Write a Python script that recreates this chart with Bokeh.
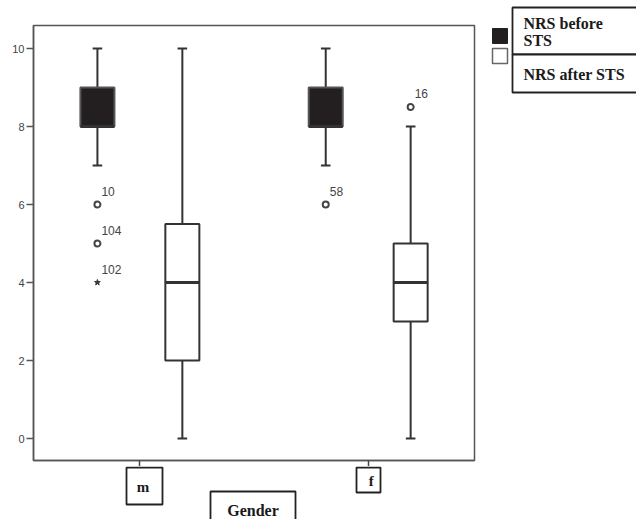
from bokeh.plotting import figure
from bokeh.models import Range1d, FixedTicker, ColumnDataSource
from bokeh.layouts import row, column
from bokeh.core.properties import value
from bokeh.embed import file_html
from bokeh.resources import INLINE

# ---- data ----
groups = ["m", "f"]
group_pos = [1, 2]
series = ["NRS before STS", "NRS after STS"]
x_title = "Gender"

before_q1 = [8, 8]
before_median = [8, 8]
before_q3 = [9, 9]
before_lo = [7, 7]
before_hi = [10, 10]

after_q1 = [2, 3]
after_median = [4, 4]
after_q3 = [5.5, 5]
after_lo = [0, 0]
after_hi = [10, 8]

# outliers: group index, series index, value, case id
out_group = [0, 0, 1, 1]
out_series = [0, 0, 0, 1]
out_value = [6, 5, 6, 8.5]
out_label = ["10", "104", "58", "16"]

# extreme values
ext_group = [0]
ext_series = [0]
ext_value = [4]
ext_label = ["102"]

y_ticks = [0, 2, 4, 6, 8, 10]

# ---- geometry ----
X0, XS = 0.534, 228.3          # x range start, px per unit
def dx(px):                     # pixel column -> x data (for layout boxes)
    return X0 + (px - 33.0) / XS

OFF = 0.186
BW = 0.149
CAP = 0.042
LINE = "#333333"
SERIF = value("Liberation Serif")
TXT = "#1a1a1a"

main = figure(width=478, height=466, output_backend="svg", toolbar_location=None,
              x_range=Range1d(dx(33), dx(474)), y_range=Range1d(-0.564, 10.59),
              min_border=0, min_border_left=33, min_border_right=4,
              min_border_top=25, min_border_bottom=6)
main.background_fill_color = "white"
main.border_fill_color = "white"
main.outline_line_color = "#555555"
main.outline_line_width = 1.5
main.xgrid.visible = False
main.ygrid.visible = False

ya = main.yaxis[0]
ya.ticker = FixedTicker(ticks=y_ticks)
ya.axis_line_color = "#555555"
ya.axis_line_width = 1.5
ya.major_tick_line_color = "#555555"
ya.major_tick_line_width = 1.5
ya.major_tick_out = 7
ya.major_tick_in = 0
ya.minor_tick_line_color = None
ya.major_label_standoff = 2
ya.major_label_text_font = "Liberation Sans"
ya.major_label_text_font_size = "11px"
ya.major_label_text_color = "#444444"

xa = main.xaxis[0]
xa.ticker = FixedTicker(ticks=group_pos)
xa.major_label_overrides = {1: "", 2: ""}
xa.major_label_text_font_size = "0px"
xa.major_label_standoff = 0
xa.axis_line_color = "#555555"
xa.axis_line_width = 1.5
xa.major_tick_line_color = "#444444"
xa.major_tick_line_width = 1.5
xa.major_tick_out = 6
xa.major_tick_in = 0
xa.minor_tick_line_color = None

def draw_series(xs, q1, med, q3, lo, hi, fill, outline):
    src = ColumnDataSource(dict(x=xs, q1=q1, med=med, q3=q3, lo=lo, hi=hi,
                                cl=[x - CAP / 2 for x in xs], cr=[x + CAP / 2 for x in xs],
                                bl=[x - BW / 2 for x in xs], br=[x + BW / 2 for x in xs]))
    main.segment(x0="x", y0="lo", x1="x", y1="q1", source=src, line_color=LINE, line_width=2)
    main.segment(x0="x", y0="q3", x1="x", y1="hi", source=src, line_color=LINE, line_width=2)
    main.segment(x0="cl", y0="lo", x1="cr", y1="lo", source=src, line_color=LINE, line_width=2)
    main.segment(x0="cl", y0="hi", x1="cr", y1="hi", source=src, line_color=LINE, line_width=2)
    main.vbar(x="x", width=BW, bottom="q1", top="q3", source=src,
              fill_color=fill, line_color=outline, line_width=2)
    main.segment(x0="bl", y0="med", x1="br", y1="med", source=src, line_color=LINE, line_width=3)

draw_series([g - OFF for g in group_pos], before_q1, before_median, before_q3,
            before_lo, before_hi, "#231f20", "#555555")
draw_series([g + OFF for g in group_pos], after_q1, after_median, after_q3,
            after_lo, after_hi, "white", LINE)

def sx(gi, si):
    return group_pos[gi] + (-OFF if si == 0 else OFF)

osrc = ColumnDataSource(dict(x=[sx(g, s) for g, s in zip(out_group, out_series)],
                             y=out_value, t=out_label))
main.scatter(x="x", y="y", source=osrc, marker="circle", size=6, fill_color=None,
             line_color="#444444", line_width=2)
main.text(x="x", y="y", text="t", source=osrc, x_offset=4, y_offset=-9,
          text_baseline="bottom", text_align="left", text_font_size="12px",
          text_font=value("Liberation Sans"), text_color="#444444")

esrc = ColumnDataSource(dict(x=[sx(g, s) for g, s in zip(ext_group, ext_series)],
                             y=ext_value, t=ext_label))
main.scatter(x="x", y="y", source=esrc, marker="star", size=6, fill_color="#333333",
             line_color="#333333", line_width=1)
main.text(x="x", y="y", text="t", source=esrc, x_offset=4, y_offset=-9,
          text_baseline="bottom", text_align="left", text_font_size="12px",
          text_font=value("Liberation Sans"), text_color="#444444")

def bare(width, height, xr, yr):
    f = figure(width=width, height=height, output_backend="svg", toolbar_location=None,
               x_range=xr, y_range=yr, x_axis_location=None, y_axis_location=None,
               min_border=0)
    f.outline_line_color = None
    f.background_fill_color = "white"
    f.border_fill_color = "white"
    f.xgrid.visible = False
    f.ygrid.visible = False
    return f

# ---- category labels and axis title (below the plot), y in pixel rows ----
bottom = bare(478, 53, main.x_range, Range1d(519, 466))
bottom.min_border_left = 33
bottom.min_border_right = 4
cat_src = ColumnDataSource(dict(
    l=[dx(126), dx(356)], r=[dx(162), dx(380)], t=[467, 467], b=[504, 492],
    x=group_pos, y=[486, 480], txt=groups))
bottom.quad(left="l", right="r", top="t", bottom="b", source=cat_src,
            fill_color="white", line_color="#222222", line_width=1.8)
bottom.text(x="x", y="y", text="txt", source=cat_src, text_align="center",
            text_baseline="middle", text_font=SERIF, text_font_style="bold",
            text_font_size="15px", text_color=TXT, x_offset=3)
bottom.quad(left=[dx(210)], right=[dx(295)], top=[491], bottom=[545],
            fill_color="white", line_color="#222222", line_width=1.8)
bottom.text(x=[dx(252.5)], y=[510], text=[x_title], text_align="center",
            text_baseline="middle", text_font=SERIF, text_font_style="bold",
            text_font_size="16px", text_color=TXT)

# ---- legend (right of the plot), coordinates in pixels ----
leg = bare(158, 519, Range1d(478, 636), Range1d(519, 0))
leg.quad(left=[512, 512], right=[660, 660], top=[7, 54], bottom=[54, 92],
         fill_color="white", line_color="#222222", line_width=1.8)
leg.quad(left=[492], right=[507], top=[28], bottom=[43],
         fill_color="#231f20", line_color="#231f20", line_width=1)
leg.quad(left=[492], right=[507], top=[48], bottom=[63],
         fill_color="white", line_color="#666666", line_width=1.5)
leg.text(x=[523, 523], y=[14, 74], text=["NRS before\nSTS", series[1]],
         text_align="left", text_baseline=["top", "middle"], text_font=SERIF,
         text_font_style="bold", text_font_size="16px", text_color=TXT,
         text_line_height=1.0)

layout = row(column(main, bottom), leg)
open("out.html", "w").write(file_html(layout, INLINE))
